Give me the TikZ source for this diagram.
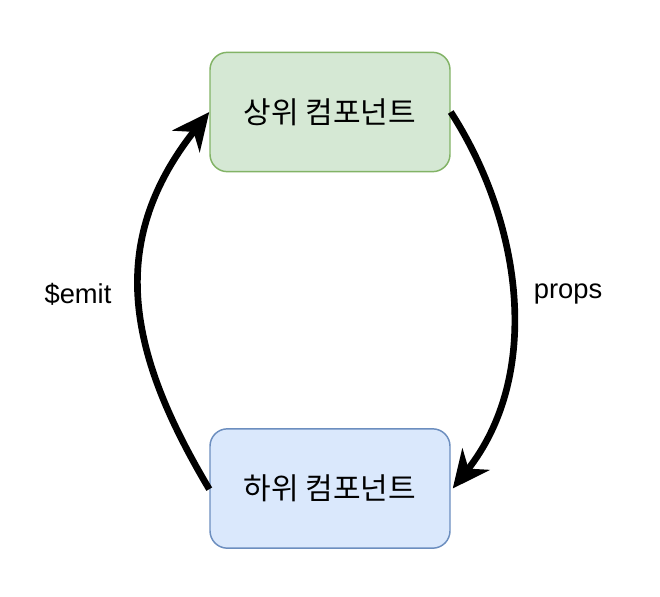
\documentclass[tikz,border=0pt]{standalone}
\usepackage{fontspec}
\setmainfont{Liberation Sans}
\newfontfamily\kor{Noto Sans CJK KR}
\usetikzlibrary{arrows.meta}
\definecolor{parentfill}{RGB}{213,232,212}
\definecolor{parentline}{RGB}{130,179,102}
\definecolor{childfill}{RGB}{218,232,252}
\definecolor{childline}{RGB}{108,142,191}

\begin{document}
\begin{tikzpicture}[x=0.75pt,y=-0.75pt]
	% `comp' is used for the two component boxes.
	% `flow' is used for the curved arrows.
	\tikzstyle{comp} = [draw,line width=1.1pt,rounded corners=13pt,minimum width=180pt,minimum height=89.5pt,font=\kor\fontsize{22.5}{26}\selectfont]
	\tikzstyle{parent} = [comp,fill=parentfill,draw=parentline]
	\tikzstyle{child} = [comp,fill=childfill,draw=childline]
	\tikzstyle{flow} = [line width=5pt,-{Stealth[length=28pt,width=26pt,inset=9pt]}]
	\tikzstyle{tag} = [font=\fontsize{20.5}{24}\selectfont]
	%
	\useasboundingbox (0,0) rectangle (660,596);
	% Draw boxes.
	\node[parent] (upper) at (330,112) {상위 컴포넌트};
	\node[child] (lower) at (330,488.5) {하위 컴포넌트};
	% Draw arrows.
	\draw[flow] (upper.east) .. controls (523,224) and (542,376) .. ([xshift=1.5pt]lower.east);
	\draw[flow] ([yshift=-0.5pt]lower.west) .. controls (130,356) and (104,245) .. (upper.west);
	% Labels.
	\node[tag] (emit) at (78,294) {\$emit};
	\node[tag] (props) at (568,294) {props};
\end{tikzpicture}
\end{document}
